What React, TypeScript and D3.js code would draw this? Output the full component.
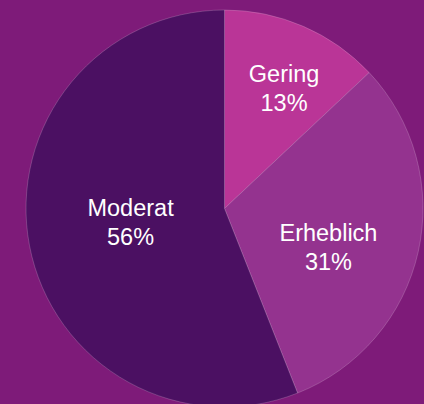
import React from "react";
import * as d3 from "d3";

const categories = ["Gering", "Erheblich", "Moderat"];
const values = [13, 31, 56];
const labels = ["13%", "31%", "56%"];
const colors = ["#BA3597", "#94338F", "#4B1062"];
// label placement (radius, angle shift in degrees) per slice
const labelRadius = [127.3, 113.9, 96.5];
const labelAngleShift = [4.5, 11.5, -2.4];

const W = 424;
const H = 404;
const BG = "#7E1B79";

export default function App() {
  const cx = 224.5;
  const cy = 208.5;
  const r = 198.5;
  const pie = d3.pie<number>().sort(null).value((d) => d);
  const arcs = pie(values);
  const arc = d3.arc<d3.PieArcDatum<number>>().innerRadius(0).outerRadius(r);

  return (
    <svg
      width={W}
      height={H}
      style={{ position: "fixed", left: 0, top: 0, display: "block" }}
    >
      <rect x={0} y={0} width={W} height={H} fill={BG} />
      <g transform={`translate(${cx},${cy})`}>
        {arcs.map((a, i) => (
          <path
            key={categories[i]}
            d={arc(a) || ""}
            fill={colors[i]}
            stroke="rgba(255,255,255,0.3)"
            strokeWidth={0.6}
          />
        ))}
        {arcs.map((a, i) => {
          const mid = (a.startAngle + a.endAngle) / 2 + (labelAngleShift[i] * Math.PI) / 180;
          const lr = labelRadius[i];
          const x = Math.sin(mid) * lr;
          const y = -Math.cos(mid) * lr;
          return (
            <text
              key={"t" + i}
              x={x}
              y={y}
              textAnchor="middle"
              fill="#ffffff"
              fontFamily="'Liberation Sans', Arial, sans-serif"
              fontSize={23.5}
            >
              <tspan x={x} dy={-14.5}>{categories[i]}</tspan>
              <tspan x={x} dy={29}>{labels[i]}</tspan>
            </text>
          );
        })}
      </g>
    </svg>
  );
}
